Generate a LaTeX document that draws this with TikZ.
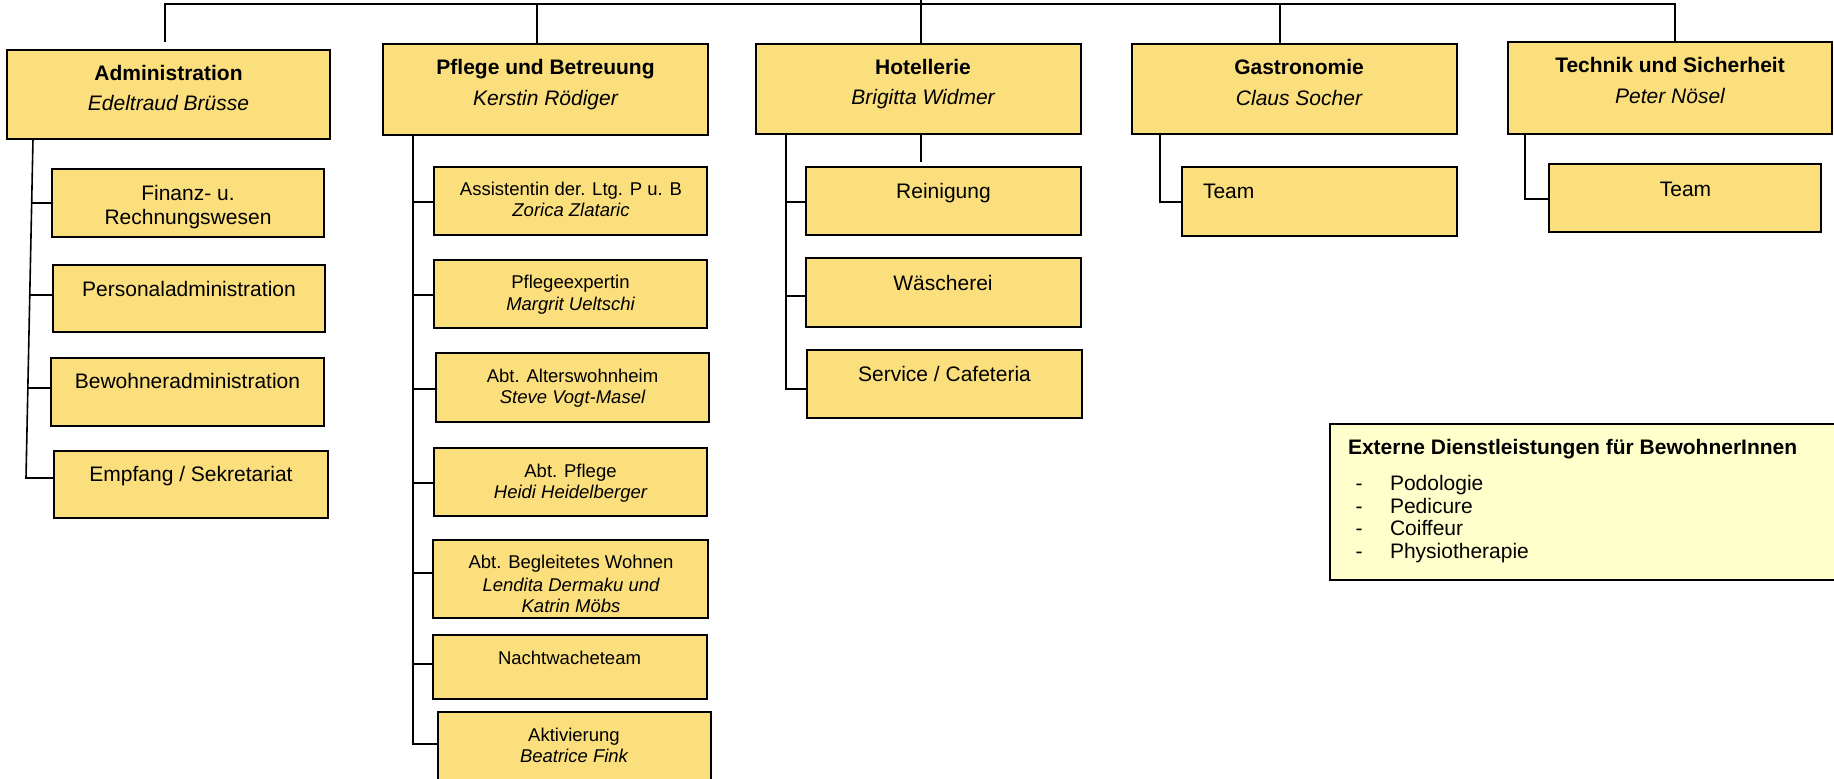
\documentclass[tikz,border=0pt]{standalone}
\usepackage{fontspec}
\setmainfont{Liberation Sans}
\definecolor{boxfill}{RGB}{251,223,124}
\definecolor{extfill}{RGB}{255,255,204}
\newcommand\obox[6][ybox]{\node[#1, anchor=north west, minimum width={#5-#3}, minimum height={#6-#4}] (#2) at (#3,#4) {};}
\begin{document}
\begin{tikzpicture}[x=1pt,y=-1pt,
  ybox/.style={rectangle, draw=black, line width=1.6pt, fill=boxfill, inner sep=0pt, outer sep=0pt},
  xbox/.style={ybox, fill=extfill},
  ln/.style={draw=black, line width=1.6pt},
  tx/.style={inner sep=0pt, outer sep=0pt, anchor=base, text=black},
  tA/.style={tx, font=\fontsize{21}{25}\selectfont},
  tB/.style={tx, font=\fontsize{18.5}{22}\selectfont}]
\clip (0,0) rectangle (1834,779);
\fill[white] (0,0) rectangle (1834,779);

% ---- top-level boxes
\obox{adm}{7}{50}{330}{139}
\obox{pfl}{383}{44}{708}{135}
\obox{hot}{756}{44}{1081}{134}
\obox{gas}{1132}{44}{1457}{134}
\obox{tec}{1508}{42}{1832}{134}
% ---- Administration children
\obox{fin}{52}{169}{324}{237}
\obox{per}{53}{265}{325}{332}
\obox{bew}{51}{358}{324}{426}
\obox{emp}{54}{451}{328}{518}
% ---- Pflege children
\obox{pa}{434}{167}{707}{235}
\obox{pb}{434}{260}{707}{328}
\obox{pc}{436}{353}{709}{422}
\obox{pd}{434}{448}{707}{516}
\obox{pe}{433}{540}{708}{618}
\obox{pf}{433}{635}{707}{699}
\obox{pg}{438}{712}{711}{800}
% ---- Hotellerie children
\obox{ha}{806}{167}{1081}{235}
\obox{hb}{806}{258}{1081}{327}
\obox{hc}{807}{350}{1082}{418}
% ---- Teams
\obox{gt}{1182}{167}{1457}{236}
\obox{tt}{1549}{164}{1821}{232}
% ---- external services
\obox[xbox]{ext}{1330}{424}{1850}{580}

% ---- texts
\node[tA] (adm-a) at (168.5,80) {\bfseries Administration};
\node[tA] (adm-b) at (168.5,110) {\itshape Edeltraud Brüsse};
\node[tA] (pfl-a) at (545.5,74) {\bfseries Pflege und Betreuung};
\node[tA] (pfl-b) at (545.5,105) {\itshape Kerstin Rödiger};
\node[tA] (hot-a) at (923,74) {\bfseries Hotellerie};
\node[tA] (hot-b) at (923,104) {\itshape Brigitta Widmer};
\node[tA] (gas-a) at (1299,74) {\bfseries Gastronomie};
\node[tA] (gas-b) at (1299,105) {\itshape Claus Socher};
\node[tA] (tec-a) at (1670,72) {\bfseries Technik und Sicherheit};
\node[tA] (tec-b) at (1670,103) {\itshape Peter Nösel};

\node[tA] (fin-a) at (188,200) {Finanz- u.};
\node[tA] (fin-b) at (188,224) {Rechnungswesen};
\node[tA] (per-a) at (189,296) {Personaladministration};
\node[tA] (bew-a) at (187.5,388) {Bewohneradministration};
\node[tA] (emp-a) at (191,481) {Empfang / Sekretariat};

\node[tB] (pa-a) at (571,195) {Assistentin der. Ltg. P u. B};
\node[tB] (pa-b) at (571,216) {\itshape Zorica Zlataric};
\node[tB] (pb-a) at (570.5,288) {Pflegeexpertin};
\node[tB] (pb-b) at (570.5,310) {\itshape Margrit Ueltschi};
\node[tB] (pc-a) at (572.5,382) {Abt. Alterswohnheim};
\node[tB] (pc-b) at (572.5,403) {\itshape Steve Vogt-Masel};
\node[tB] (pd-a) at (570.5,477) {Abt. Pflege};
\node[tB] (pd-b) at (570.5,498) {\itshape Heidi Heidelberger};
\node[tB] (pe-a) at (571,568) {Abt. Begleitetes Wohnen};
\node[tB] (pe-b) at (571,591) {\itshape Lendita Dermaku und};
\node[tB] (pe-c) at (571,612) {\itshape Katrin Möbs};
\node[tB] (pf-a) at (569.5,664) {Nachtwacheteam};
\node[tB] (pg-a) at (574,741) {Aktivierung};
\node[tB] (pg-b) at (574,762) {\itshape Beatrice Fink};

\node[tA] (ha-a) at (943.5,198) {Reinigung};
\node[tA] (hb-a) at (943,290) {Wäscherei};
\node[tA] (hc-a) at (944.5,381) {Service / Cafeteria};
\node[tA, anchor=base west] (gt-a) at (1203,198) {Team};
\node[tA] (tt-a) at (1685.5,196) {Team};

\node[tA, anchor=base west] (ext-a) at (1348,454) {\bfseries Externe Dienstleistungen für BewohnerInnen};
\node[tA] (ext-d1) at (1359,490) {-};
\node[tA] (ext-d2) at (1359,513) {-};
\node[tA] (ext-d3) at (1359,535) {-};
\node[tA] (ext-d4) at (1359,558) {-};
\node[tA, anchor=base west] (ext-1) at (1390,490) {Podologie};
\node[tA, anchor=base west] (ext-2) at (1390,513) {Pedicure};
\node[tA, anchor=base west] (ext-3) at (1390,535) {Coiffeur};
\node[tA, anchor=base west] (ext-4) at (1390,558) {Physiotherapie};

% ---- top bus
\coordinate (busL) at (165,4);
\coordinate (busR) at (1675,4);
\coordinate (admIn) at (165,42);
\coordinate (jP) at (537,4);
\coordinate (jH) at (921,0);
\coordinate (jG) at (1280,4);
\coordinate (hDrop) at (921,162);
\draw[ln] (admIn) -- (busL) -- (busR) -- (busR |- tec.north);
\draw[ln] (jP) -- (jP |- pfl.north);
\draw[ln] (jH) -- (jH |- hot.north);
\draw[ln] (jG) -- (jG |- gas.north);
\draw[ln] (hDrop |- hot.south) -- (hDrop);

% ---- Administration spine
\coordinate (aS1) at (33,139);
\coordinate (aS2) at (26,478);
\coordinate (aB1) at (31.7,203);
\coordinate (aB2) at (29.8,295);
\coordinate (aB3) at (27.9,388);
\draw[ln] (aS1) -- (aS2) -- (aS2 -| emp.west);
\draw[ln] (aB1) -- (aB1 -| fin.west);
\draw[ln] (aB2) -- (aB2 -| per.west);
\draw[ln] (aB3) -- (aB3 -| bew.west);

% ---- Pflege spine
\coordinate (pS1) at (413,135);
\coordinate (pS2) at (413,744);
\coordinate (pB1) at (413,202);
\coordinate (pB2) at (413,295);
\coordinate (pB3) at (413,389);
\coordinate (pB4) at (413,483);
\coordinate (pB5) at (413,573);
\coordinate (pB6) at (413,664);
\draw[ln] (pS1) -- (pS2) -- (pS2 -| pg.west);
\draw[ln] (pB1) -- (pB1 -| pa.west);
\draw[ln] (pB2) -- (pB2 -| pb.west);
\draw[ln] (pB3) -- (pB3 -| pc.west);
\draw[ln] (pB4) -- (pB4 -| pd.west);
\draw[ln] (pB5) -- (pB5 -| pe.west);
\draw[ln] (pB6) -- (pB6 -| pf.west);

% ---- Hotellerie spine
\coordinate (hS1) at (786,134);
\coordinate (hS2) at (786,389);
\coordinate (hB1) at (786,202);
\coordinate (hB2) at (786,296);
\draw[ln] (hS1) -- (hS2) -- (hS2 -| hc.west);
\draw[ln] (hB1) -- (hB1 -| ha.west);
\draw[ln] (hB2) -- (hB2 -| hb.west);

% ---- Gastronomie and Technik
\coordinate (gS1) at (1160,134);
\coordinate (gS2) at (1160,202);
\draw[ln] (gS1) -- (gS2) -- (gS2 -| gt.west);
\coordinate (tS1) at (1525,134);
\coordinate (tS2) at (1525,199);
\draw[ln] (tS1) -- (tS2) -- (tS2 -| tt.west);
\end{tikzpicture}
\end{document}
